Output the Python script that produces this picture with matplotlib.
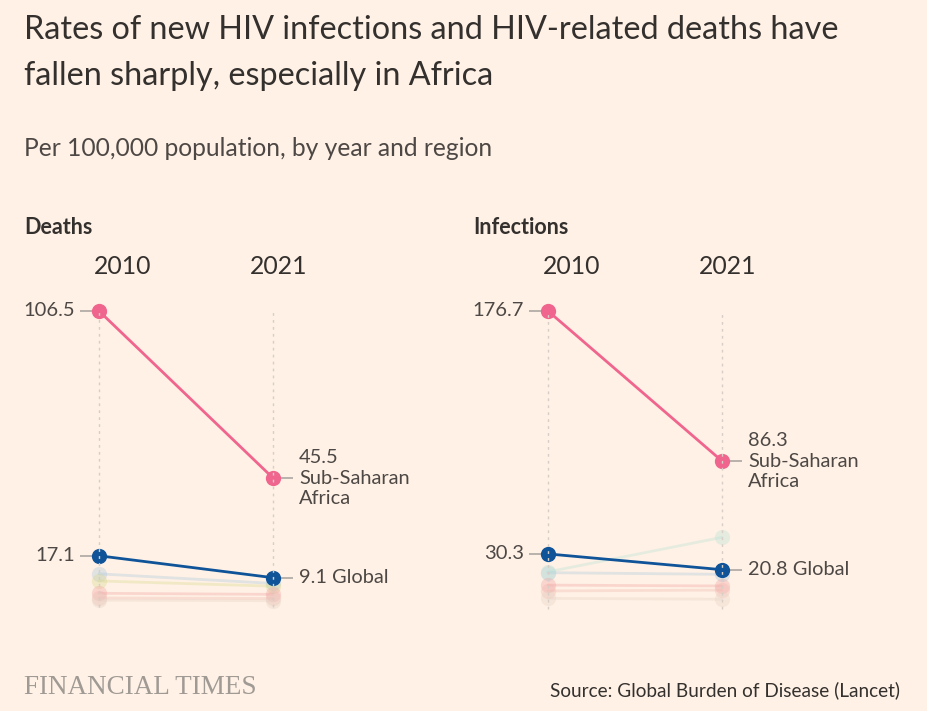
import matplotlib
matplotlib.use('Agg')
import matplotlib.pyplot as plt
from matplotlib.transforms import offset_copy

# === data (per 100,000 population) ===
years = ['2010', '2021']
deaths_ssa = [106.5, 45.5]
deaths_global = [17.1, 9.1]
deaths_faint = [[10.5, 7.0], [7.9, 6.0], [3.4, 3.0], [1.7, 1.5], [0.9, 0.7]]
infections_ssa = [176.7, 86.3]
infections_global = [30.3, 20.8]
infections_faint = [[19.0, 18.0], [19.5, 40.3], [11.5, 11.0], [8.0, 8.5], [3.5, 3.0]]

BG = '#FFF1E5'
PINK = '#F0658E'
BLUE = '#0F5499'
TEXT = '#33302E'
LABEL = '#4D4845'
TICK = '#B3ADA8'
GRID = '#D6CEC7'
faint_cols = ['#A9C6DE', '#D8D98E', '#F2A3A3', '#F0B8B0', '#E6D2C6']
faint_cols_inf = ['#A9C6DE', '#B9E2D6', '#F2A3A3', '#F0B8B0', '#E6D2C6']

plt.rcParams['font.family'] = ['Lato', 'DejaVu Sans']

W, H = 928, 711
fig = plt.figure(figsize=(W / 100, H / 100), dpi=100, facecolor=BG)


def px(x, y):
    return x / W, 1 - y / H


# titles
fig.text(*px(24, 30), 'Rates of new HIV infections and HIV-related deaths have',
         fontsize=23.3, color=TEXT, va='center')
fig.text(*px(24, 76), 'fallen sharply, especially in Africa',
         fontsize=23.3, color=TEXT, va='center')
fig.text(*px(24, 149), 'Per 100,000 population, by year and region',
         fontsize=17.7, color='#4D4845', va='center')


def panel(x0, y_zero, name, ssa, glob, faint, fcols):
    y_top = 311
    ax = fig.add_axes([x0 / W, (H - y_zero) / H, 174 / W, (y_zero - y_top) / H])
    ax.set_facecolor('none')
    ax.set_xlim(0, 1)
    ax.set_ylim(0, ssa[0])
    ax.axis('off')
    xs = [0, 1]

    # panel label and years
    fig.text(*px(x0 - 75, 227), name, fontsize=15.5, fontweight='bold', color=TEXT, va='center')
    year_tr = offset_copy(ax.transAxes, fig=fig, y=45, units='dots')
    ax.text(0.135, 1, years[0], transform=year_tr, fontsize=17.8, color=TEXT,
            ha='center', va='center')
    ax.text(1.035, 1, years[1], transform=year_tr, fontsize=17.8, color=TEXT,
            ha='center', va='center')

    # faint regions
    for vals, c in zip(faint, fcols):
        ax.plot(xs, vals, color=c, lw=2, alpha=0.35, zorder=2, clip_on=False,
                marker='o', ms=11, mec='none', solid_capstyle='round')

    # highlighted lines
    ax.plot(xs, glob, color=BLUE, lw=2, marker='o', ms=11, mec='none', zorder=4, clip_on=False)
    ax.plot(xs, ssa, color=PINK, lw=2, marker='o', ms=11, mec='none', zorder=4, clip_on=False)

    # dotted year lines
    for x in xs:
        ax.plot([x, x], [-ssa[0] * 0.015, ssa[0]], color=GRID, lw=1, ls=(0, (2, 3)),
                zorder=5, clip_on=False)

    # value labels
    left_tick = offset_copy(ax.transData, fig=fig, x=-13, units='dots')
    left_txt = offset_copy(ax.transData, fig=fig, x=-24, units='dots')
    right_tick = offset_copy(ax.transData, fig=fig, x=14, units='dots')
    right_txt = offset_copy(ax.transData, fig=fig, x=26, units='dots')
    for v in (ssa[0], glob[0]):
        ax.plot(0, v, marker='_', ms=9, mew=1.3, color=TICK, transform=left_tick, clip_on=False)
        ax.text(0, v, f'{v:.1f}', transform=left_txt, ha='right', va='center',
                fontsize=14.5, color=LABEL)
    for v, lab in ((ssa[1], f'{ssa[1]:.1f}\nSub-Saharan\nAfrica'), (glob[1], f'{glob[1]:.1f} Global')):
        ax.plot(1, v, marker='_', ms=9, mew=1.3, color=TICK, transform=right_tick, clip_on=False)
        ax.text(1, v, lab, transform=right_txt, ha='left', va='center',
                fontsize=14.4, color=LABEL, linespacing=1.22)
    return ax


panel(99, 602.6, 'Deaths', deaths_ssa, deaths_global, deaths_faint, faint_cols)
panel(548, 604.2, 'Infections', infections_ssa, infections_global, infections_faint, faint_cols_inf)

# footer
fig.text(*px(24, 688), 'FINANCIAL TIMES', fontsize=19.5, color='#A09A95',
         family='Liberation Serif', va='center')
fig.text(*px(900, 690), 'Source: Global Burden of Disease (Lancet)', fontsize=13.7,
         color=TEXT, ha='right', va='center')

fig.savefig('out.png', dpi=100, facecolor=BG)
